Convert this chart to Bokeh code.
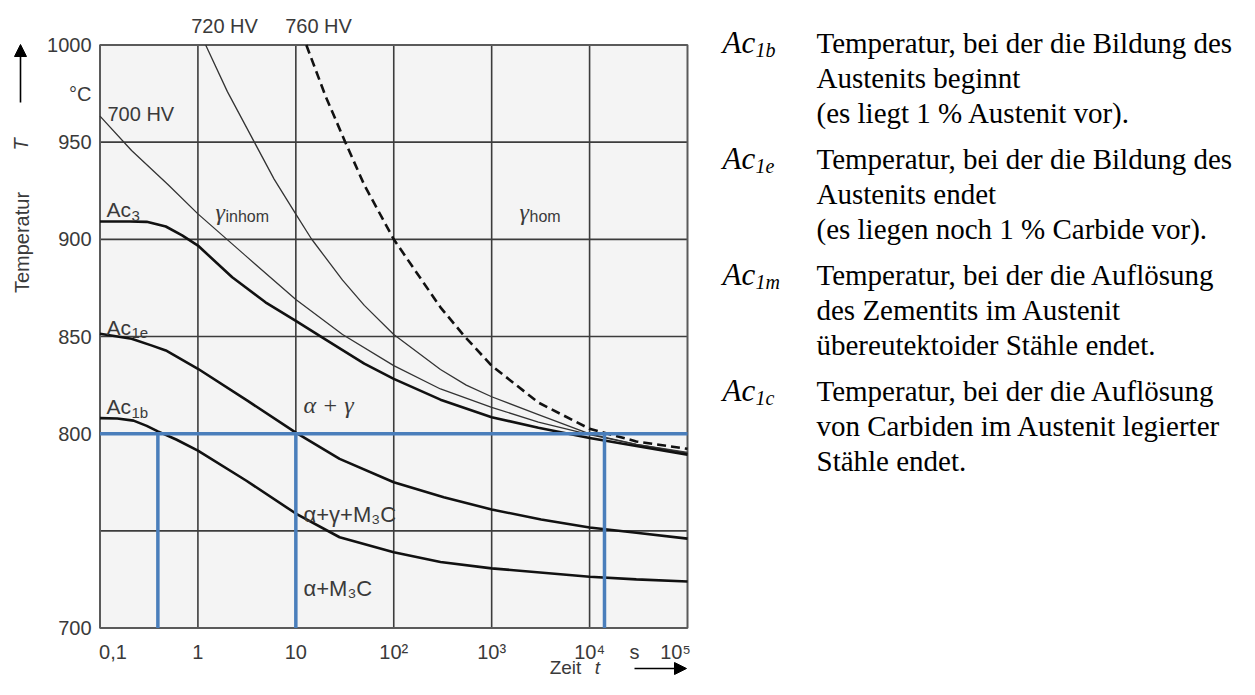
import math
from bokeh.plotting import figure
from bokeh.models import Label, Arrow, NormalHead, Range1d
from bokeh.core.properties import value
from bokeh.embed import file_html
from bokeh.resources import INLINE

# ---------------- data ----------------
x_ticks = [0.1, 1, 10, 100, 1000, 10000, 100000]
x_tick_labels = ["0,1", "1", "10", "10²", "10³", "10⁴", "10⁵"]
y_ticks = [700, 800, 850, 900, 950, 975, 1000]
y_tick_labels = ["700", "800", "850", "900", "950", "°C", "1000"]
x_grid = [1, 10, 100, 1000, 10000]
y_grid = [750, 800, 850, 900, 950]
t_min, t_max = 0.1, 1e5
T_min, T_max = 700, 1000

ac3_t = [0.1, 0.2, 0.3, 0.47, 0.69, 1, 2.24, 4.9, 10, 20, 30, 50, 100, 300, 1000, 3000, 1e4, 3e4, 1e5]
ac3_T = [909.2, 909.2, 909.0, 906.6, 902.0, 896.8, 880.5, 867.6, 858.0, 848.5, 843.0, 836.0, 828.2, 817.5, 808.5, 803.0, 797.8, 793.7, 789.2]

hv700_t = [0.1, 0.21, 0.5, 1, 3, 10, 30, 100, 300, 1000, 3000, 1e4, 3e4, 1e5]
hv700_T = [963.4, 945.7, 928.0, 913.1, 892.0, 869.0, 851.0, 835.0, 823.0, 813.5, 806.0, 799.5, 794.5, 790.0]

hv720_t = [1.2, 2, 3.77, 6, 10, 14.4, 30, 50, 100, 300, 550, 1000, 3000, 1e4, 3e4, 1e5]
hv720_T = [1000, 976, 950, 931, 913, 900.3, 879, 866, 851, 833, 825, 819, 809.8, 799.9, 794.5, 790.4]

hv760_t = [12.8, 20, 32, 50, 100, 300, 530, 1000, 3000, 1e4, 3e4, 1e5]
hv760_T = [1000, 974, 950, 928, 900, 865, 850, 835, 816, 802.5, 796, 792.2]

ac1e_t = [0.1, 0.21, 0.34, 0.47, 1, 3.2, 10, 28, 100, 324, 1000, 3200, 1e4, 3e4, 1e5]
ac1e_T = [851.4, 848.8, 845.3, 842.8, 833.4, 817.0, 800.5, 787.0, 775.0, 767.3, 761.0, 755.8, 751.7, 749.0, 746.0]

ac1b_t = [0.1, 0.15, 0.22, 0.3, 0.39, 0.6, 1, 3.1, 10, 28, 100, 300, 1000, 1e4, 3e4, 1e5]
ac1b_T = [808.0, 807.8, 806.7, 804.0, 801.2, 797.0, 791.3, 775.9, 758.9, 746.7, 739.0, 734.0, 730.7, 726.4, 725.0, 723.9]

blue_level = 800
blue_t = [0.39, 10, 14200]

legend_rows = [
    ("1b", ["Temperatur, bei der die Bildung des", "Austenits beginnt", "(es liegt 1 % Austenit vor)."]),
    ("1e", ["Temperatur, bei der die Bildung des", "Austenits endet", "(es liegen noch 1 % Carbide vor)."]),
    ("1m", ["Temperatur, bei der die Auflösung", "des Zementits im Austenit", "übereutektoider Stähle endet."]),
    ("1c", ["Temperatur, bei der die Auflösung", "von Carbiden im Austenit legierter", "Stähle endet."]),
]

# ---------------- layout: chart box position on the canvas (pixels) ----------------
W, H = 1239, 679
FL, FR, FT, FB = 99.5, 687.0, 44.5, 627.5
DX = (FR - FL) / (math.log10(t_max) - math.log10(t_min))   # px per decade
KY = (FB - FT) / (T_max - T_min)                           # px per degree


def tx(px):
    return 10 ** (math.log10(t_min) + (px - FL) / DX)


def ty(py):
    return T_max - (py - FT) / KY


p = figure(width=W, height=H, x_axis_type="log",
           x_range=Range1d(tx(0), tx(W)), y_range=Range1d(ty(H), ty(0)),
           x_axis_location=None, y_axis_location=None, title=None,
           output_backend="svg", toolbar_location=None,
           min_border=0, min_border_left=0, min_border_right=0, min_border_top=0, min_border_bottom=0)
p.outline_line_color = None
p.background_fill_color = "white"
p.border_fill_color = "white"
p.xgrid.visible = False
p.ygrid.visible = False

TXT = "#3a3a3a"
SANS = "Liberation Sans"
SERIF = "Liberation Serif"

# chart box and grid
p.quad(left=[t_min], right=[t_max], bottom=[T_min], top=[T_max], fill_color="#f4f4f4", line_color=None)
p.segment(x0=x_grid, y0=[T_min] * len(x_grid), x1=x_grid, y1=[T_max] * len(x_grid),
          line_color="#3c3c3c", line_width=1.6)
p.segment(x0=[t_min] * len(y_grid), y0=y_grid, x1=[t_max] * len(y_grid), y1=y_grid,
          line_color="#3c3c3c", line_width=1.6)
p.quad(left=[t_min], right=[t_max], bottom=[T_min], top=[T_max], fill_color=None,
       line_color="#5a5a5a", line_width=2)

# tick labels (through the scales)
p.text(x=x_ticks, y=[ty(651)] * len(x_ticks), text=x_tick_labels,
       x_offset=[13, 0, 0, 0, 0, 0, -12],
       text_font=value(SANS), text_font_size="20px", text_color=TXT,
       text_align="center", text_baseline="middle")
p.text(x=[tx(91)] * len(y_ticks), y=y_ticks, text=y_tick_labels,
       text_font=value(SANS), text_font_size="20px", text_color=TXT,
       text_align="right", text_baseline="middle")

# curves
p.line(hv700_t, hv700_T, line_color="#333333", line_width=1.3)
p.line(hv720_t, hv720_T, line_color="#333333", line_width=1.3)
p.line(hv760_t, hv760_T, line_color="#111111", line_width=2.6, line_dash="9 5")
for tt, TT in ((ac3_t, ac3_T), (ac1e_t, ac1e_T), (ac1b_t, ac1b_T)):
    p.line(tt, TT, line_color="#111111", line_width=2.6)

BLUE = "#4a7ebb"
p.line([t_min, t_max], [blue_level, blue_level], line_color=BLUE, line_width=3.5)
p.segment(x0=blue_t, y0=[T_min] * 3, x1=blue_t, y1=[blue_level] * 3, line_color=BLUE, line_width=3.5)


# ---------------- annotations (positions in canvas pixels) ----------------
def lab(px, py, text, size, font=SANS, style="normal", color=TXT,
        align="left", baseline="alphabetic", angle=0.0):
    p.add_layout(Label(x=tx(px), y=ty(py), text=text, text_font=font,
                       text_font_size=f"{size}px", text_font_style=style, text_color=color,
                       text_align=align, text_baseline=baseline, angle=angle))


lab(224, 25, "720 HV", 20, align="center", baseline="middle")
lab(318, 25, "760 HV", 20, align="center", baseline="middle")
lab(107, 113, "700 HV", 20, baseline="middle")

lab(106, 209, "Ac", 21)
lab(131, 215, "3", 15)
lab(106, 327, "Ac", 21)
lab(131, 332, "1e", 15)
lab(106, 406, "Ac", 21)
lab(131, 412, "1b", 15)

lab(215, 211, "γ", 24, font=SERIF, style="italic")
lab(225, 216, "inhom", 16)
lab(519, 211, "γ", 24, font=SERIF, style="italic")
lab(529, 216, "hom", 16)

lab(303, 404, "α + γ", 24, font=SERIF, style="italic")
lab(303, 514, "α+γ+M₃C", 22)
lab(303, 588, "α+M₃C", 22)

lab(634, 651, "s", 20, align="center", baseline="middle")
lab(565, 667, "Zeit", 19, align="center", baseline="middle")
lab(597, 667, "t", 19, style="italic", align="center", baseline="middle")
p.add_layout(Arrow(x_start=tx(634), y_start=ty(668), x_end=tx(686), y_end=ty(668),
                   line_color="black", line_width=1.6,
                   end=NormalHead(size=12, fill_color="black", line_color="black")))

lab(21, 242, "Temperatur", 20, align="center", baseline="middle", angle=math.pi / 2)
lab(20, 144, "T", 20, style="italic", align="center", baseline="middle", angle=math.pi / 2)
p.add_layout(Arrow(x_start=tx(20), y_start=ty(102), x_end=tx(20), y_end=ty(44),
                   line_color="black", line_width=1.6,
                   end=NormalHead(size=12, fill_color="black", line_color="black")))

base = 42
for sub, lines in legend_rows:
    lab(722, base, "Ac", 31, font=SERIF, style="italic", color="black")
    lab(755, base + 7, sub, 20, font=SERIF, style="italic", color="black")
    for j, line in enumerate(lines):
        lab(816, base + 35 * j, line, 29, font=SERIF, color="black")
    base += 35 * 2 + 46

open("out.html", "w").write(file_html(p, INLINE))
